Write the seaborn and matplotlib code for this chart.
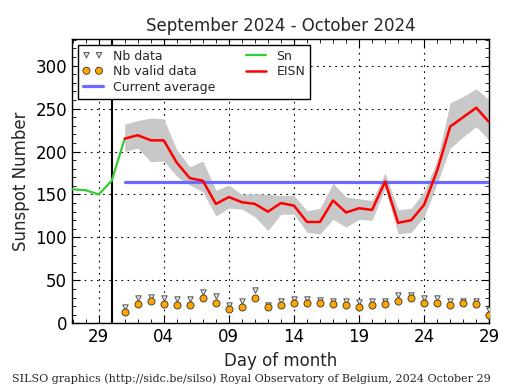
import matplotlib

matplotlib.use("Agg")
import matplotlib.dates as mdates
import matplotlib.pyplot as plt
import pandas as pd
import seaborn as sns
from matplotlib.ticker import MultipleLocator

# daily Sn (end of previous month)
sn_days = pd.date_range("2024-09-27", "2024-10-01")
sn_values = [156, 155, 150, 166, 215]

# estimated international sunspot number for the current month
eisn_days = pd.date_range("2024-10-01", "2024-10-29")
eisn_values = [215, 219, 213, 213, 187, 169, 166, 139, 147, 141, 139, 130, 140, 137, 118,
               118, 143, 129, 134, 132, 165, 117, 120, 138, 178, 229, 240, 251, 234]
eisn_upper = [232, 236, 239, 238, 202, 182, 189, 155, 161, 150, 151, 150, 149, 149, 131,
              134, 163, 147, 145, 143, 175, 132, 134, 153, 190, 257, 264, 273, 260]
eisn_lower = [200, 204, 188, 189, 171, 161, 153, 125, 134, 133, 124, 108, 127, 127, 106,
              104, 121, 112, 121, 120, 157, 104, 106, 124, 163, 204, 217, 229, 213]

# number of stations
nb_data = [19, 29, 31, 29, 28, 28, 36, 32, 21, 26, 39, 21, 26, 28, 28,
           27, 26, 26, 25, 26, 26, 33, 33, 30, 30, 26, 26, 26, 15]
nb_valid = [13, 22, 26, 22, 21, 21, 29, 24, 17, 19, 29, 19, 21, 24, 24,
            24, 22, 21, 19, 21, 22, 26, 30, 24, 24, 21, 24, 22, 10]

current_average = 165
month_start = pd.Timestamp("2024-09-30")
tick_days = [29, 4, 9, 14, 19, 24]

sns.set_style("ticks")
plt.rcParams.update({
    "font.family": ["DejaVu Sans"],
    "xtick.direction": "in",
    "ytick.direction": "in",
    "xtick.top": True,
    "ytick.right": True,
    "xtick.major.size": 6,
    "ytick.major.size": 6,
    "xtick.minor.size": 3,
    "ytick.minor.size": 3,
    "xtick.color": "black",
    "ytick.color": "black",
    "axes.edgecolor": "black",
    "axes.linewidth": 1.0,
})

fig = plt.figure(figsize=(5.15, 3.9), dpi=100)
ax = fig.add_axes([0.140, 0.171, 0.810, 0.729])

ax.fill_between(eisn_days, eisn_lower, eisn_upper, color="#c8c8c8", lw=0, zorder=1)

sns.scatterplot(x=eisn_days, y=nb_data, marker="v", s=15, color="#e6e6e6",
                edgecolor="#555555", linewidth=0.7, ax=ax, label="Nb data", zorder=3)
sns.scatterplot(x=eisn_days, y=nb_valid, marker="o", s=26, color="#ffa500",
                edgecolor="#333333", linewidth=0.6, ax=ax, label="Nb valid data", zorder=4)

ax.plot([eisn_days[0], eisn_days[-1]], [current_average] * 2,
        color="#6a6aff", lw=2.3, label="Current average", zorder=2)
sns.lineplot(x=sn_days, y=sn_values, color="#33cc33", lw=1.6, ax=ax, label="Sn", zorder=5)
sns.lineplot(x=eisn_days, y=eisn_values, color="#ff0000", lw=1.8, ax=ax, label="EISN", zorder=6)

ax.axvline(month_start, color="black", lw=1.5, zorder=2)

ax.set_xlim(pd.Timestamp("2024-09-26 23:00"), pd.Timestamp("2024-10-29"))
ax.set_ylim(0, 331)

ax.xaxis.set_major_locator(mdates.DayLocator(bymonthday=tick_days))
ax.xaxis.set_minor_locator(mdates.DayLocator())
ax.xaxis.set_major_formatter(mdates.DateFormatter("%d"))
ax.yaxis.set_major_locator(MultipleLocator(50))
ax.yaxis.set_minor_locator(MultipleLocator(10))
ax.tick_params(labelsize=12)
ax.grid(True, which="major", color="black", linestyle=(0, (1.5, 4)), lw=0.8)

ax.set_title("September 2024 - October 2024", fontsize=12)
ax.set_xlabel("Day of month", fontsize=12)
ax.set_ylabel("Sunspot Number", fontsize=12)

handles, labels = ax.get_legend_handles_labels()
order = ["Nb data", "Nb valid data", "Current average", "Sn", "EISN"]
hmap = dict(zip(labels, handles))
leg = ax.legend([hmap[k] for k in order], order, loc="upper left", ncol=2,
                scatterpoints=2, scatteryoffsets=[0.5], fontsize=9, handlelength=1.6,
                fancybox=False, framealpha=1, edgecolor="black",
                borderaxespad=0.45, columnspacing=2.5, labelspacing=0.2)
leg.get_frame().set_linewidth(1.0)

fig.text(0.023, 0.02, "SILSO graphics (http://sidc.be/silso) Royal Observatory of Belgium, 2024 October 29",
         fontsize=8, family="DejaVu Serif")

fig.savefig("out.png", dpi=100)
